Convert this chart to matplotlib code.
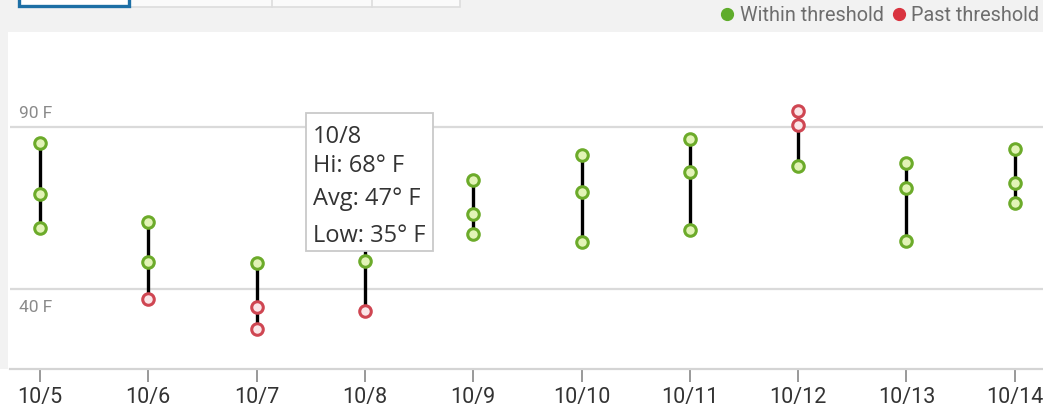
import numpy as np
from matplotlib import pyplot as plt
from matplotlib.patches import Rectangle
from matplotlib.lines import Line2D

#--------------
# daily temperatures (F)
days = ['10/5', '10/6', '10/7', '10/8', '10/9', '10/10', '10/11', '10/12', '10/13', '10/14']
hi = [85.1, 60.7, 48.0, 68.0, 73.6, 81.3, 86.2, 95.0, 78.8, 83.2]
avg = [69.3, 48.3, 34.4, 48.6, 63.1, 69.8, 76.2, 90.6, 71.0, 72.6]
low = [58.8, 36.7, 27.4, 33.1, 56.9, 54.5, 58.1, 77.9, 54.7, 66.6]
upper, lower = 90, 40  # thresholds

tip_lines = ['10/8', 'Hi: 68° F', 'Avg: 47° F', 'Low: 35° F']

W, H = 1043, 411
def fx(x): return x / W
def fy(y): return 1 - y / H

GREEN, GREEN_FILL = '#6cab2a', '#e2f3b6'
RED, RED_FILL = '#cf4652', '#fbe6e8'

fig = plt.figure(figsize=(W / 100, H / 100), dpi=100, facecolor='white')

# grey page background at the top / left
fig.add_artist(Rectangle((0, fy(32)), 1, 1 - fy(32), transform=fig.transFigure, fc='#f2f2f2', ec='none', zorder=-2))
fig.add_artist(Rectangle((0, fy(369)), fx(8), fy(32) - fy(369), transform=fig.transFigure, fc='#f2f2f2', ec='none', zorder=-2))

# tab buttons (cut off at the top)
fig.add_artist(Rectangle((fx(129), fy(7)), fx(460 - 129), 0.05, transform=fig.transFigure, fc='#fafafa', ec='#dddddd', lw=1.2, zorder=1))
for xd in [272, 372]:
    fig.add_artist(Line2D([fx(xd), fx(xd)], [fy(7), 1], transform=fig.transFigure, color='#dddddd', lw=1.2))
fig.add_artist(Rectangle((fx(19), fy(6)), fx(129 - 19), 0.05, transform=fig.transFigure, fc='white', ec='#1d6fa5', lw=2.4, zorder=2))

# legend
for cx, col, tx, lab in [(727, '#5fac2b', 884, 'Within threshold'), (899, '#d9333f', 1039, 'Past threshold')]:
    fig.add_artist(Line2D([fx(cx)], [fy(14)], transform=fig.transFigure, marker='o', ms=8.5, color=col, mec=col))
    fig.text(fx(tx), fy(21), lab, family='Roboto', fontsize=14.3, color='#6d6d6d', va='baseline', ha='right')

#--------------
ax = fig.add_axes([fx(10), fy(369), fx(1043 - 10), fy(32) - fy(369)])
ax.set_facecolor('white')
x = np.arange(len(days))
x0, px_per_day = 40, 108.3
ax.set_xlim(-(x0 - 10) / px_per_day, (1043 - x0) / px_per_day)
deg_px = (288.5 - 127) / (upper - lower)
ax.set_ylim(upper - (369 - 127) / deg_px, upper + (127 - 32) / deg_px)

for g in [upper, lower]:
    ax.axhline(g, color='#dadada', lw=1.6, zorder=0)

ax.vlines(x, low, hi, color='black', lw=2.4, zorder=2)
for series in [hi, avg, low]:
    v = np.array(series)
    past = (v > upper) | (v < lower)
    ax.plot(x[~past], v[~past], ls='none', marker='o', ms=8.3, mew=2.2, mec=GREEN, mfc=GREEN_FILL, zorder=3)
    ax.plot(x[past], v[past], ls='none', marker='o', ms=8.3, mew=2.2, mec=RED, mfc=RED_FILL, zorder=3)

ax.set_xticks(x)
ax.set_xticklabels(days, family='Roboto', fontsize=15.5, color='#333333')
ax.tick_params(axis='x', length=9, width=1.2, color='#888888', pad=4)
ax.set_yticks([])
for s in ['top', 'left', 'right']:
    ax.spines[s].set_visible(False)
ax.spines['bottom'].set_color('#d4d4d4')
ax.spines['bottom'].set_linewidth(1.6)

fig.text(fx(19), fy(118), f'{upper} F', family='Roboto', fontsize=12.5, color='#8a8a8a', va='baseline')
fig.text(fx(19), fy(312), f'{lower} F', family='Roboto', fontsize=12.5, color='#8a8a8a', va='baseline')

#--------------
# hover tooltip
fig.add_artist(Rectangle((fx(306), fy(251)), fx(433 - 306), fy(113) - fy(251), transform=fig.transFigure,
                         fc='white', ec='#c9c9c9', lw=1.3, zorder=5))
for t, yb in zip(tip_lines, [143, 172, 205, 242]):
    fig.text(fx(313), fy(yb), t, family='Open Sans', fontsize=17, color='#333333', va='baseline', zorder=6)

plt.savefig('out.png', dpi=100)
